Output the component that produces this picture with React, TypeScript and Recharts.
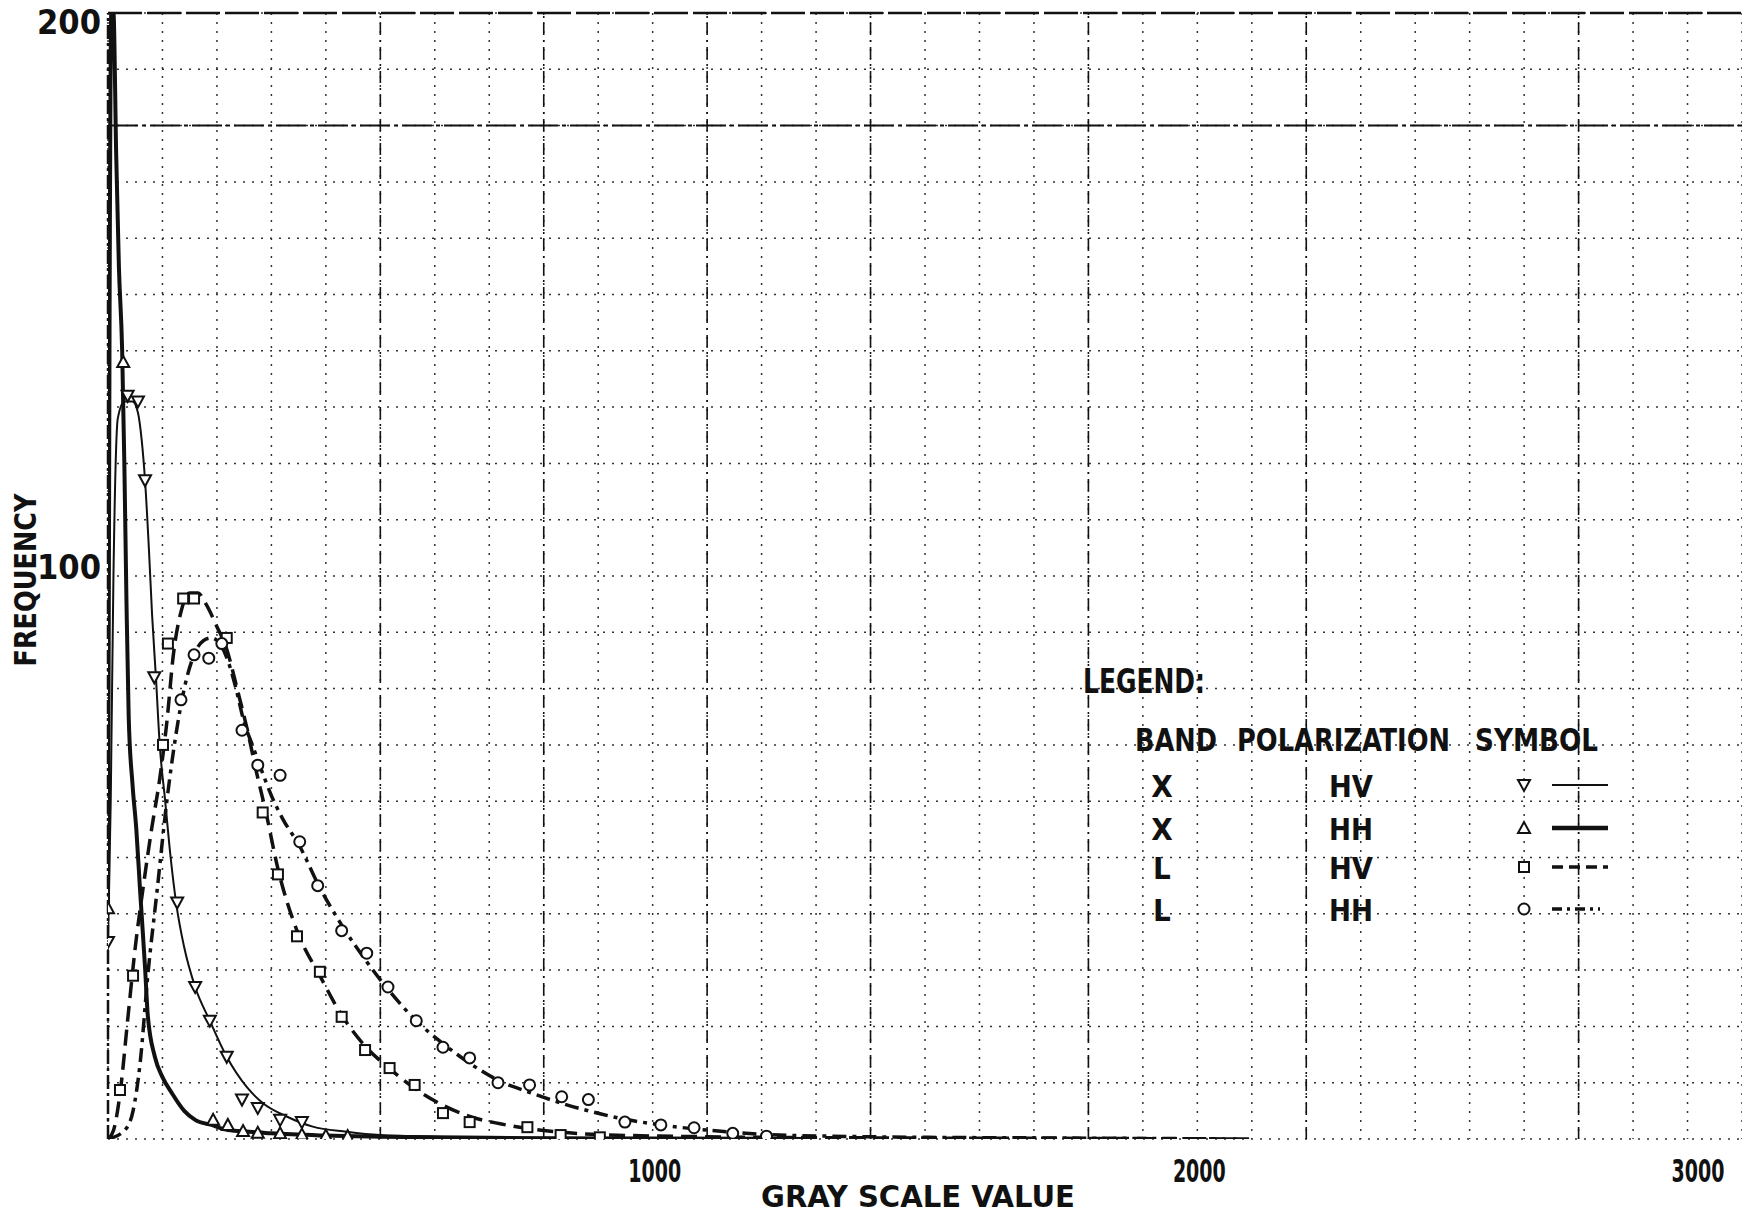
import React from 'react';
import {
  ComposedChart, Line, Scatter, XAxis, YAxis, CartesianGrid, ReferenceLine,
} from 'recharts';

// axis ticks
const xTicks = [1000, 2000, 3000];
const yTicks = [100, 200];

// X band, HV polarization: fitted curve (thin solid) and points (inverted triangles)
const xHvCurveX = [0, 5, 10, 18, 30, 45, 55, 62, 68, 75, 81, 88, 95, 105, 115, 125, 140, 160, 187, 218, 255, 284, 328, 376, 438, 499, 600, 800, 1000];
const xHvCurveY = [35, 60, 100, 128, 131, 131, 129, 124, 117, 105, 93, 82, 70, 60, 50, 42, 34, 27, 21, 14.6, 9.2, 6.4, 4, 2.2, 1.3, 0.7, 0.4, 0.2, 0.1];
const xHvPointX = [0, 36, 55, 68, 85, 127, 160, 187, 218, 246, 275, 316, 356];
const xHvPointY = [35, 132, 131, 117, 82, 42, 27, 21, 14.6, 7, 5.5, 3.4, 3];

// X band, HH polarization: thick solid, triangles
const xHhCurveX = [0, 3, 6, 10, 15, 20, 26, 30, 34, 38, 45, 52, 59, 68, 73, 86, 100, 117, 140, 160, 190, 220, 260, 300, 400, 500, 700, 1000, 1300];
const xHhCurveY = [41, 150, 200, 200, 175, 155, 140, 120, 95, 75, 63, 55, 44, 30.5, 22, 14.6, 11, 8.2, 5, 3.4, 2.5, 1.6, 1.3, 1, 0.6, 0.4, 0.2, 0.1, 0];
const xHhPointX = [0, 28, 193, 220, 248, 275, 316, 356, 400, 440];
const xHhPointY = [41, 138, 3.4, 2.5, 1.4, 1.1, 1, 0.8, 0.6, 0.5];

// L band, HV polarization: dashed, squares
const lHvCurveX = [0, 10, 22, 37, 50, 65, 80, 95, 108, 120, 135, 150, 165, 180, 200, 218, 237, 255, 273, 290, 312, 347, 389, 429, 472, 517, 563, 615, 664, 720, 800, 900, 1100, 1400, 1800, 2100];
const lHvCurveY = [0, 1.5, 8, 22, 34, 45, 55, 64, 74, 86, 94, 97, 97, 95, 91, 87, 80, 73, 65, 58, 48, 37, 29, 22, 16.5, 12.5, 9, 6, 4, 2.7, 1.5, 0.8, 0.4, 0.2, 0.1, 0];
const lHvPointX = [22, 46, 101, 110, 138, 158, 218, 284, 312, 347, 389, 429, 472, 517, 563, 615, 664, 770, 831, 903];
const lHvPointY = [8.7, 29, 70, 88, 96, 96, 89, 58, 47, 36, 29.7, 21.7, 15.8, 12.6, 9.6, 4.6, 3, 2.1, 0.7, 0.3];

// L band, HH polarization: dash-dot, circles
const lHhCurveX = [0, 31, 46, 59, 73, 90, 108, 125, 140, 158, 175, 190, 205, 220, 235, 250, 265, 280, 300, 320, 352, 387, 429, 475, 519, 566, 617, 668, 719, 776, 831, 882, 949, 1015, 1076, 1147, 1209, 1330, 1500, 1700, 1900, 2080];
const lHhCurveY = [0, 1.6, 5, 13.5, 29, 44, 60, 72, 80, 86, 88.5, 89, 88, 85, 80, 74, 70, 66, 61, 57, 52, 45, 38, 31.5, 26, 21, 16.8, 13.2, 10.3, 8.2, 6.4, 5, 3.5, 2.5, 1.8, 1.2, 0.8, 0.5, 0.3, 0.2, 0.1, 0];
const lHhPointX = [134, 158, 185, 209, 246, 275, 316, 352, 385, 429, 475, 514, 566, 615, 664, 716, 774, 833, 882, 949, 1015, 1076, 1147, 1209];
const lHhPointY = [78, 86, 85.4, 88, 72.6, 66.4, 64.6, 52.8, 45, 37, 33, 27, 21, 16.3, 14.4, 10, 9.6, 7.5, 7, 3, 2.5, 2, 1, 0.5];

// legend rows
const legendBands = ['X', 'X', 'L', 'L'];
const legendPols = ['HV', 'HH', 'HV', 'HH'];

const zip = (xs: number[], ys: number[]) => xs.map((x, i) => ({ x, y: ys[i] }));

const xHvCurve = zip(xHvCurveX, xHvCurveY);
const xHvPoints = zip(xHvPointX, xHvPointY);
const xHhCurve = zip(xHhCurveX, xHhCurveY);
const xHhPoints = zip(xHhPointX, xHhPointY);
const lHvCurve = zip(lHvCurveX, lHvCurveY);
const lHvPoints = zip(lHvPointX, lHvPointY);
const lHhCurve = zip(lHhCurveX, lHhCurveY);
const lHhPoints = zip(lHhPointX, lHhPointY);

const gridX = Array.from({ length: 31 }, (_, i) => i * 100);
const gridY = Array.from({ length: 21 }, (_, i) => i * 10);
const heavyX = [500, 800, 1100, 1400, 1800, 2200, 2700];

const INK = '#111';
const FONT = "'Liberation Sans Narrow', 'DejaVu Sans Condensed', 'Liberation Sans', sans-serif";

const DownTri = ({ cx, cy }: any) => (
  <path d={`M${cx - 6},${cy - 5} L${cx + 6},${cy - 5} L${cx},${cy + 6} Z`} fill="#fff" stroke={INK} strokeWidth={2} />
);
const UpTri = ({ cx, cy }: any) => (
  <path d={`M${cx - 6},${cy + 5} L${cx + 6},${cy + 5} L${cx},${cy - 6} Z`} fill="#fff" stroke={INK} strokeWidth={2} />
);
const Square = ({ cx, cy }: any) => (
  <rect x={cx - 5} y={cy - 5} width={10} height={10} fill="#fff" stroke={INK} strokeWidth={2} />
);
const Circle = ({ cx, cy }: any) => (
  <circle cx={cx} cy={cy} r={5.5} fill="#fff" stroke={INK} strokeWidth={2} />
);

function XTick({ x, y, payload }: any) {
  const last = payload.value === 3000;
  const cx = last ? x - 28 : x + 2;
  return (
    <text transform={`translate(${cx} ${y + 43}) scale(0.66 1)`} textAnchor="middle"
      fontFamily={FONT} fontWeight="bold" fontSize={32} fill={INK}>
      {payload.value}
    </text>
  );
}

function YTick({ x, y, payload }: any) {
  const dy = payload.value === 200 ? 21 : 3;
  return (
    <text x={x - 7} y={y + dy} textAnchor="end" fontFamily={FONT} fontWeight="bold"
      fontSize={34} fill={INK} textLength={64} lengthAdjust="spacingAndGlyphs">
      {payload.value}
    </text>
  );
}

function LegendBox() {
  const rows = [785, 828, 867, 909];
  const dashes = [undefined, undefined, '11 6', '10 5 3 5'];
  const widths = [2, 4.5, 3.5, 3.5];
  const marks = [DownTri, UpTri, Square, Circle];
  return (
    <svg width={1742} height={1218} style={{ position: 'absolute', left: 0, top: 0, pointerEvents: 'none' }}>
      <g fontFamily={FONT} fontWeight="bold" fill={INK}>
        <text x={1083} y={693} fontSize={34} textLength={122} lengthAdjust="spacingAndGlyphs">LEGEND:</text>
        <text x={1135} y={751} fontSize={32} textLength={82} lengthAdjust="spacingAndGlyphs">BAND</text>
        <text x={1237} y={751} fontSize={32} textLength={213} lengthAdjust="spacingAndGlyphs">POLARIZATION</text>
        <text x={1475} y={751} fontSize={32} textLength={123} lengthAdjust="spacingAndGlyphs">SYMBOL</text>
        {rows.map((ry, i) => {
          const M = marks[i];
          return (
            <g key={i}>
              <text x={1162} y={ry + 12} fontSize={31} textAnchor="middle">{legendBands[i]}</text>
              <text x={1351} y={ry + 12} fontSize={31} textAnchor="middle" textLength={44} lengthAdjust="spacingAndGlyphs">{legendPols[i]}</text>
              <M cx={1524} cy={ry} />
              <line x1={1552} x2={i === 3 ? 1600 : 1608} y1={ry} y2={ry} stroke={INK}
                strokeWidth={widths[i]} strokeDasharray={dashes[i]} />
            </g>
          );
        })}
        <text x={918} y={1207} fontSize={31} textAnchor="middle" textLength={314} lengthAdjust="spacingAndGlyphs">GRAY SCALE VALUE</text>
        <text x={0} y={0} fontSize={30} textAnchor="middle" textLength={173} lengthAdjust="spacingAndGlyphs"
          transform="translate(36 580) rotate(-90)">FREQUENCY</text>
      </g>
    </svg>
  );
}

export default function App() {
  return (
    <div style={{ position: 'absolute', left: 0, top: 0, width: 1742, height: 1218, background: '#fff', overflow: 'hidden' }}>
      <ComposedChart width={1742} height={1218} margin={{ top: 13, right: 0, bottom: 0, left: 0 }}>
        <CartesianGrid horizontalValues={gridY} verticalValues={gridX}
          stroke="#333" strokeWidth={1.5} strokeDasharray="2 7" />
        <XAxis type="number" dataKey="x" domain={[0, 3000]} ticks={xTicks} height={79}
          axisLine={false} tickLine={false} tickSize={0} tickMargin={0} tick={<XTick />} allowDataOverflow />
        <YAxis type="number" dataKey="y" domain={[0, 200]} ticks={yTicks} width={108}
          axisLine={false} tickLine={false} tickSize={0} tickMargin={0} tick={<YTick />} allowDataOverflow />
        {heavyX.map(v => (
          <ReferenceLine key={v} x={v} stroke={INK} strokeWidth={1.6} strokeDasharray="12 5 2 5" />
        ))}
        <ReferenceLine x={0} stroke={INK} strokeWidth={2.5} strokeDasharray="14 4 3 4" />
        <ReferenceLine y={180} stroke={INK} strokeWidth={2} strokeDasharray="30 4 4 4" />
        <ReferenceLine y={200} stroke={INK} strokeWidth={2.5} strokeDasharray="34 5" />

        <Line data={xHvCurve} dataKey="y" type="monotone" stroke={INK} strokeWidth={2} dot={false} isAnimationActive={false} />
        <Line data={xHhCurve} dataKey="y" type="monotone" stroke={INK} strokeWidth={4} dot={false} isAnimationActive={false} />
        <Line data={lHvCurve} dataKey="y" type="monotone" stroke={INK} strokeWidth={3.5} strokeDasharray="16 8" dot={false} isAnimationActive={false} />
        <Line data={lHhCurve} dataKey="y" type="monotone" stroke={INK} strokeWidth={3.5} strokeDasharray="14 6 4 6" dot={false} isAnimationActive={false} />

        <Scatter data={xHvPoints} shape={<DownTri />} isAnimationActive={false} />
        <Scatter data={xHhPoints} shape={<UpTri />} isAnimationActive={false} />
        <Scatter data={lHvPoints} shape={<Square />} isAnimationActive={false} />
        <Scatter data={lHhPoints} shape={<Circle />} isAnimationActive={false} />
      </ComposedChart>
      <LegendBox />
    </div>
  );
}
